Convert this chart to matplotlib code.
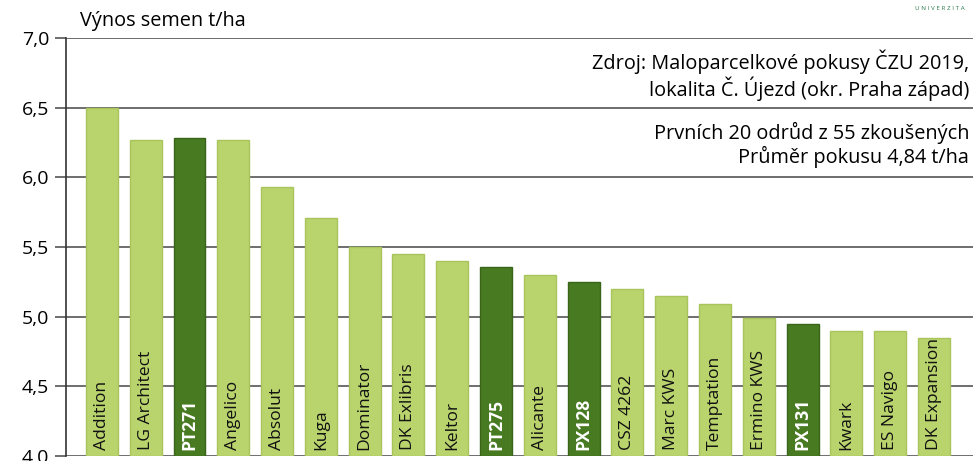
import numpy as np
import matplotlib.pyplot as plt

plt.rcParams['font.family'] = ['Open Sans', 'DejaVu Sans']

# data
odrudy = ['Addition', 'LG Architect', 'PT271', 'Angelico', 'Absolut', 'Kuga',
          'Dominator', 'DK Exlibris', 'Keltor', 'PT275', 'Alicante', 'PX128',
          'CSZ 4262', 'Marc KWS', 'Temptation', 'Ermino KWS', 'PX131', 'Kwark',
          'ES Navigo', 'DK Expansion']
vynos = [6.50, 6.27, 6.28, 6.27, 5.93, 5.71, 5.50, 5.45, 5.40, 5.36, 5.30,
         5.25, 5.20, 5.15, 5.09, 4.99, 4.95, 4.90, 4.90, 4.85]
zvyraznene = ['PT271', 'PT275', 'PX128', 'PX131']
yticks = [4.0, 4.5, 5.0, 5.5, 6.0, 6.5, 7.0]
ylabels = ['4,0', '4,5', '5,0', '5,5', '6,0', '6,5', '7,0']

svetla = '#b9d36d'
tmava = '#477a21'

fig = plt.figure(figsize=(9.73, 4.61), dpi=100)
ax = fig.add_axes([66/973, 1 - 456/461, (973 - 66)/973, (456 - 38)/461])

x = np.arange(len(odrudy))
barvy = [tmava if o in zvyraznene else svetla for o in odrudy]
hrany = ['#3a6518' if o in zvyraznene else '#a8c55c' for o in odrudy]
ax.bar(x, np.array(vynos) - 4.0, bottom=4.0, width=0.73, color=barvy,
       edgecolor=hrany, linewidth=1.0, zorder=3)

# popisky v sloupcich
for i, o in enumerate(odrudy):
    if o in zvyraznene:
        ax.text(i, 4.045, o, rotation=90, ha='center', va='bottom', color='white',
                fontsize=12.6, fontweight='bold', zorder=4)
    else:
        ax.text(i, 4.045, o, rotation=90, ha='center', va='bottom', color='#111111',
                fontsize=12.6, zorder=4)

ax.set_ylim(4.0, 7.0)
ax.set_xlim(-0.82, 19.89)
ax.set_yticks(yticks)
ax.set_yticklabels(ylabels, fontsize=14)
ax.set_xticks([])
ax.yaxis.grid(True, color='#555555', linewidth=1.2, zorder=0)
ax.tick_params(axis='y', length=8, width=1.2, color='#555555', pad=4)
for s in ['top', 'right', 'bottom']:
    ax.spines[s].set_visible(False)
ax.spines['left'].set_color('#333333')
ax.spines['left'].set_linewidth(1.2)
ax.set_axisbelow(True)

fig.text(80/973, 1 - 21/461, 'Výnos semen t/ha', fontsize=14.3, ha='left', va='center')

ax.text(0.996, 0.91, 'Zdroj: Maloparcelkové pokusy ČZU 2019,\nlokalita Č. Újezd (okr. Praha západ)',
        transform=ax.transAxes, ha='right', va='center', fontsize=14.3, linespacing=1.12)
ax.text(0.996, 0.745, 'Prvních 20 odrůd z 55 zkoušených\nPrůměr pokusu 4,84 t/ha',
        transform=ax.transAxes, ha='right', va='center', fontsize=14.3, linespacing=1.12)

fig.text(0.992, 1 - 8/461, 'U N I V E R Z I T A', fontsize=4.5, color='#2e7d4f',
         ha='right', va='center')

fig.savefig('out.png', dpi=100)
